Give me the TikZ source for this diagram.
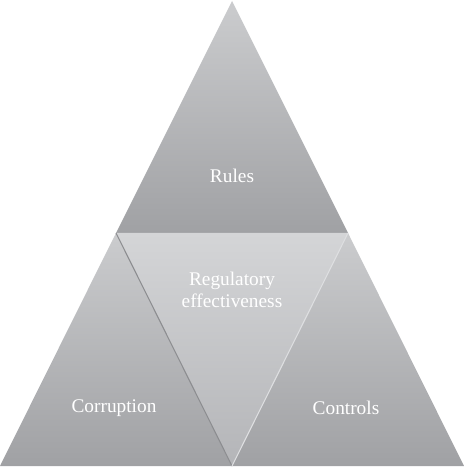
\documentclass[tikz,border=0pt]{standalone}
\usepackage{fontspec}
\setmainfont{Liberation Serif}
\definecolor{tkLight}{RGB}{203,204,206}
\definecolor{tkDark}{RGB}{160,161,164}
\definecolor{tkMidLight}{RGB}{212,213,215}
\definecolor{tkMidDark}{RGB}{180,181,184}
\definecolor{tkEdge}{RGB}{140,141,144}
\definecolor{tkGlow}{RGB}{222,223,225}
\begin{document}
\begin{tikzpicture}[
  x=0.02cm, y=-0.02cm,
  part/.style={top color=tkLight, bottom color=tkDark, draw=none},
  mid/.style={top color=tkMidLight, bottom color=tkMidDark, draw=none},
  lbl/.style={text=white, font=\fontsize{11}{12.5}\selectfont, align=center},
]
\useasboundingbox (0,0) rectangle (465,469);
% corner points
\coordinate (apex) at (232,1);
\coordinate (ml) at (116,233);
\coordinate (mr) at (348,233);
\coordinate (bl) at (0,466);
\coordinate (bm) at (232,466);
\coordinate (br) at (464,466);
% four triangles
\shade[part] (apex) -- (mr) -- (ml) -- cycle;
\shade[part] (ml) -- (bm) -- (bl) -- cycle;
\shade[part] (mr) -- (br) -- (bm) -- cycle;
\shade[mid] (ml) -- (mr) -- (bm) -- cycle;
\draw[tkEdge, line width=0.6pt] (ml) -- (bm);
\draw[tkGlow, line width=0.6pt] (mr) -- (bm);
% labels
\node[lbl] (rules) at (232,176) {Rules};
\node[lbl] (reg) at (232,290) {Regulatory\\effectiveness};
\node[lbl] (corr) at (114,408) {Corruption};
\node[lbl] (ctrl) at (346,408) {Controls};
\end{tikzpicture}
\end{document}
